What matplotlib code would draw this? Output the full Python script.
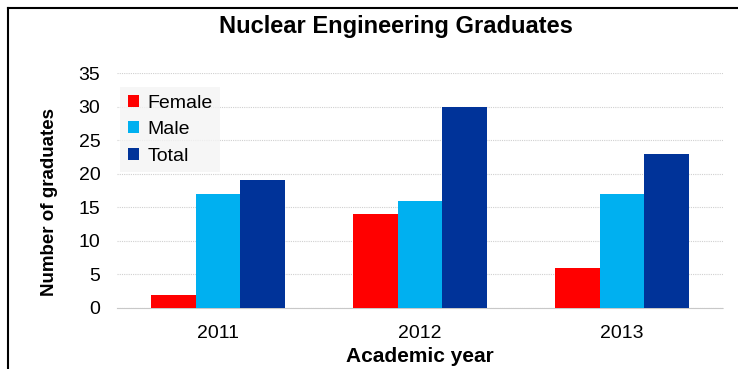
import matplotlib
matplotlib.use("Agg")
import matplotlib.pyplot as plt
import numpy as np
from matplotlib.lines import Line2D

plt.rcParams['font.family'] = ['Liberation Sans', 'DejaVu Sans']

years = ["2011", "2012", "2013"]
female = [2, 14, 6]
male = [17, 16, 17]
total = [19, 30, 23]
series_names = ["Female", "Male", "Total"]
colors = ["#ff0000", "#00b0f0", "#003399"]

fig = plt.figure(figsize=(7.38, 3.69), dpi=100)
ax = fig.add_axes([117/738, 1-308/369, 606/738, (308-73)/369])

x = np.arange(len(years))
w = 0.222
for i, (vals, c, name) in enumerate(zip([female, male, total], colors, series_names)):
    ax.bar(x + (i-1)*w, vals, width=w, color=c, label=name, zorder=3)

ax.set_xlim(-0.5, 2.5)
ax.set_ylim(0, 35)
ax.set_yticks(range(0, 36, 5))
ax.set_xticks(x)
ax.set_xticklabels(years)
ax.tick_params(axis='both', length=0, labelsize=14, colors='black')
ax.tick_params(axis='y', pad=12)
ax.tick_params(axis='x', pad=12)
ax.grid(axis='y', color='#d0d0d0', linestyle=(0, (1, 1)), linewidth=0.8, zorder=0)
for s in ['top', 'right', 'left']:
    ax.spines[s].set_visible(False)
ax.spines['bottom'].set_color('#c8c8c8')
ax.spines['bottom'].set_linestyle((0, (1, 1)))
ax.spines['bottom'].set_linewidth(0.8)

ax.set_ylabel("Number of graduates", fontsize=13.5, fontweight='bold', va='center')
ax.yaxis.set_label_coords((50-117)/606, (308-202.5)/235)
ax.set_xlabel("Academic year", fontsize=15, fontweight='bold', va='center')
ax.xaxis.set_label_coords(0.5, (308-357)/235)
fig.text(396/738, 1-27/369, "Nuclear Engineering Graduates", ha='center', va='center',
         fontsize=17, fontweight='bold')

leg = ax.legend(loc='upper left', bbox_to_anchor=(3/606, (308-87)/235), frameon=True,
                fontsize=14, handlelength=0.6, handleheight=0.6, handletextpad=0.4,
                labelspacing=0.48, borderpad=0.4, borderaxespad=0)
leg.get_frame().set_facecolor('#f4f4f4')
leg.get_frame().set_edgecolor('none')
leg.get_frame().set_boxstyle('square', pad=0)

# outer frame lines (left and top)
fig.add_artist(Line2D([8/738, 8/738], [0, 1-8/369], color='black', lw=1.5))
fig.add_artist(Line2D([8/738, 1], [1-8/369, 1-8/369], color='black', lw=1.5))

fig.savefig("out.png", dpi=100)
